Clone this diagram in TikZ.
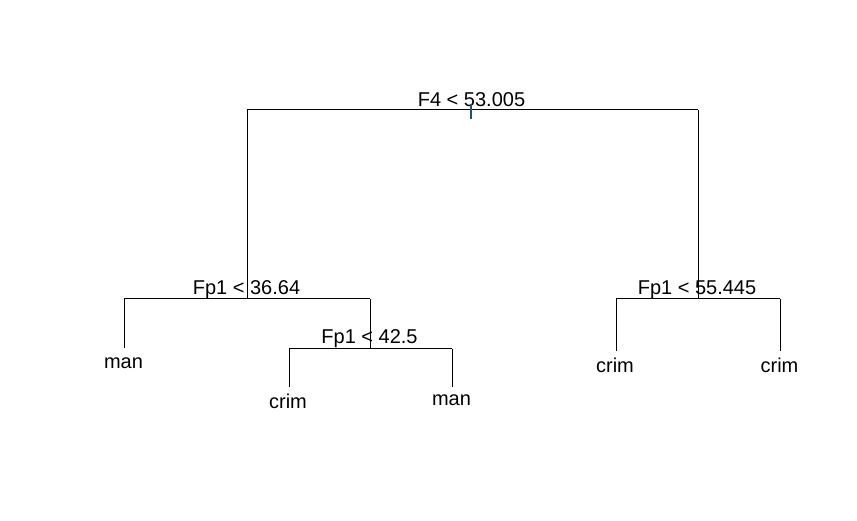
\documentclass[tikz,border=0pt]{standalone}
\usepackage{fontspec}
\setmainfont{Liberation Sans}
\begin{document}
\begin{tikzpicture}[x=1pt,y=-1pt,
  branch/.style={draw=black,line width=1pt},
  splitlabel/.style={anchor=base,inner sep=0pt,font=\fontsize{20}{23}\selectfont},
  leaflabel/.style={anchor=base,inner sep=0pt,font=\fontsize{20}{23}\selectfont}]
\definecolor{stemblue}{RGB}{25,85,125}
\useasboundingbox (0,0) rectangle (857,521);
\fill[white] (0,0) rectangle (857,521);

% joints of the tree
\coordinate (r)   at (471,110);
\coordinate (rL)  at (247,110);
\coordinate (rR)  at (698,110);
\coordinate (a)   at (247,299);
\coordinate (aL)  at (124,299);
\coordinate (aR)  at (370,299);
\coordinate (b)   at (370,349);
\coordinate (bL)  at (289,349);
\coordinate (bR)  at (452,349);
\coordinate (c)   at (698,299);
\coordinate (cL)  at (616,299);
\coordinate (cR)  at (780,299);
\coordinate (l1)  at (124,348);
\coordinate (l2)  at (289,387);
\coordinate (l3)  at (452,387);
\coordinate (l4)  at (616,351);
\coordinate (l5)  at (780,351);
\coordinate (rt)  at (471,104);
\coordinate (rb)  at (471,119);

% branches
\draw[branch] (rL) -- (rR);
\draw[branch] (rL) -- (a);
\draw[branch] (rR) -- (c);
\draw[branch] (aL) -- (aR);
\draw[branch] (aL) -- (l1);
\draw[branch] (aR) -- (b);
\draw[branch] (bL) -- (bR);
\draw[branch] (bL) -- (l2);
\draw[branch] (bR) -- (l3);
\draw[branch] (cL) -- (cR);
\draw[branch] (cL) -- (l4);
\draw[branch] (cR) -- (l5);

% split labels
\node[splitlabel] (s0) at (471.5,107) {F4 < 53.005};
\node[splitlabel] (s1) at (246.5,295) {Fp1 < 36.64};
\node[splitlabel] (s2) at (369.5,344) {Fp1 < 42.5};
\node[splitlabel] (s3) at (697,295) {Fp1 < 55.445};

% root stem mark
\draw[stemblue,line width=1.2pt] (rt) -- (rb);

% leaf labels
\node[leaflabel] (n1) at (123.5,368) {man};
\node[leaflabel] (n2) at (288,408) {crim};
\node[leaflabel] (n3) at (451.5,406) {man};
\node[leaflabel] (n4) at (615,373) {crim};
\node[leaflabel] (n5) at (779.5,373) {crim};
\end{tikzpicture}
\end{document}
